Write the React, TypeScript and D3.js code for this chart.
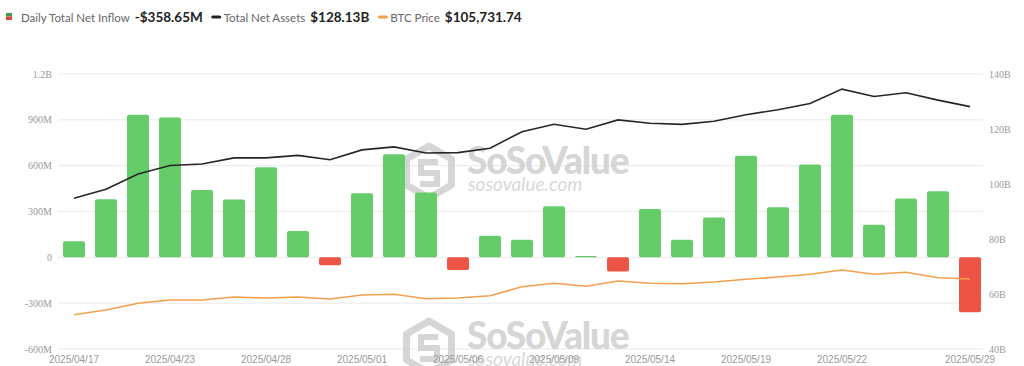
import { useEffect, useRef } from "react";
import * as d3 from "d3";

// trading days shown on the x axis
const dates = [
  "2025/04/17", "2025/04/21", "2025/04/22", "2025/04/23", "2025/04/24", "2025/04/25",
  "2025/04/28", "2025/04/29", "2025/04/30", "2025/05/01", "2025/05/02", "2025/05/05",
  "2025/05/06", "2025/05/07", "2025/05/08", "2025/05/09", "2025/05/12", "2025/05/13",
  "2025/05/14", "2025/05/15", "2025/05/16", "2025/05/19", "2025/05/20", "2025/05/21",
  "2025/05/22", "2025/05/23", "2025/05/27", "2025/05/28", "2025/05/29",
];

// daily total net inflow, in millions USD
const netInflow = [
  106, 380, 934, 915, 441, 378, 589, 172, -52, 419, 674, 424, -83, 142, 115,
  335, 8, -93, 317, 115, 261, 665, 328, 607, 933, 213, 385, 433, -358.65,
];

// total net assets, in billions USD
const netAssets = [
  94.8, 98.1, 103.6, 106.7, 107.3, 109.5, 109.5, 110.4, 108.8, 112.4, 113.5, 111.3,
  111.4, 113.0, 119.0, 121.7, 119.9, 123.3, 122.1, 121.7, 122.8, 125.2, 127.0, 129.3,
  134.5, 131.8, 133.2, 130.5, 128.13,
];

// btc price, USD
const btcPrice = [
  84900, 87700, 91600, 93500, 93500, 95250, 94670, 95250, 94090, 96420, 96830, 94260,
  94670, 96000, 101250, 103220, 101480, 104560, 103220, 103000, 103980, 105550, 106890,
  108460, 110960, 108460, 109620, 106480, 105731.74,
];

const xTickLabels = [
  "2025/04/17", "2025/04/23", "2025/04/28", "2025/05/01", "2025/05/06",
  "2025/05/09", "2025/05/14", "2025/05/19", "2025/05/22", "2025/05/29",
];
const leftTicks = [-600, -300, 0, 300, 600, 900, 1200];
const rightTicks = [40, 60, 80, 100, 120, 140];

const legendItems = [
  { label: "Daily Total Net Inflow", value: "-$358.65M", mark: "square" },
  { label: "Total Net Assets", value: "$128.13B", mark: "#222" },
  { label: "BTC Price", value: "$105,731.74", mark: "#f2a04c" },
];

const fmtLeft = (v) => (v === 0 ? "0" : Math.abs(v) >= 1000 ? `${v / 1000}B` : `${v}M`);

function Watermark(g, x, y) {
  const w = g.append("g").attr("transform", `translate(${x}, ${y})`).attr("opacity", 0.85);
  // hexagon logo
  const r = 26;
  const hex = d3.range(6).map((i) => {
    const a = (Math.PI / 3) * i - Math.PI / 2;
    return [21 + r * Math.cos(a), 27 + r * Math.sin(a)];
  });
  w.append("path")
    .attr("d", d3.line()(hex) + "Z")
    .attr("fill", "none")
    .attr("stroke", "#cfcfcf")
    .attr("stroke-width", 7)
    .attr("stroke-linejoin", "round");
  w.append("path")
    .attr("d", "M30,17 L13,17 L13,28 L29,28 L29,39 L12,39")
    .attr("fill", "none")
    .attr("stroke", "#cfcfcf")
    .attr("stroke-width", 6);
  w.append("text")
    .attr("x", 59)
    .attr("y", 29)
    .attr("font-family", "Lato, 'Open Sans', sans-serif")
    .attr("font-weight", 900)
    .attr("font-size", 37)
    .attr("letter-spacing", -1.2)
    .attr("fill", "#cfcfcf")
    .text("SoSoValue");
  w.append("text")
    .attr("x", 60)
    .attr("y", 46)
    .attr("font-family", "Lato, 'Open Sans', sans-serif")
    .attr("font-style", "italic")
    .attr("font-size", 19)
    .attr("fill", "#d2d2d2")
    .text("sosovalue.com");
}

export default function App() {
  const svgRef = useRef(null);

  useEffect(() => {
    const width = 1024, height = 366;
    const svg = d3.select(svgRef.current).attr("width", width).attr("height", height);
    svg.selectAll("*").remove();

    const top = 74, bottom = 349, left = 58, right = 986;

    const x = d3.scaleBand().domain(dates).range([left, right]).paddingInner(0.3125).paddingOuter(0.15625);
    const y0 = d3.scaleLinear().domain([-600, 1200]).range([bottom, top]);
    const y1 = d3.scaleLinear().domain([40, 140]).range([bottom, top]);
    const y2 = d3.scaleLinear().domain([65000, 225000]).range([bottom, top]);
    const cx = (d) => x(d) + x.bandwidth() / 2;

    // grid lines
    svg.append("g")
      .selectAll("line")
      .data(leftTicks)
      .join("line")
      .attr("x1", left)
      .attr("x2", 983)
      .attr("y1", (d) => y0(d))
      .attr("y2", (d) => y0(d))
      .attr("stroke", "#e9e9e9")
      .attr("stroke-width", 1);

    // left axis
    svg.append("g")
      .selectAll("text")
      .data(leftTicks)
      .join("text")
      .attr("x", 52)
      .attr("y", (d) => y0(d) + 3.5)
      .attr("text-anchor", "end")
      .attr("font-family", "'Liberation Serif', serif")
      .attr("font-size", 10)
      .attr("fill", "#999")
      .text(fmtLeft);

    // right axis
    svg.append("g")
      .selectAll("text")
      .data(rightTicks)
      .join("text")
      .attr("x", 989)
      .attr("y", (d) => y1(d) + 3.5)
      .attr("font-family", "'Liberation Serif', serif")
      .attr("font-size", 10)
      .attr("fill", "#999")
      .text((d) => `${d}B`);

    // watermarks
    Watermark(svg, 408, 145);
    Watermark(svg, 408, 320);

    // bars
    svg.append("g")
      .selectAll("rect")
      .data(netInflow)
      .join("rect")
      .attr("x", (d, i) => x(dates[i]))
      .attr("width", x.bandwidth())
      .attr("y", (d) => y0(Math.max(0, d)))
      .attr("height", (d) => Math.max(1, Math.abs(y0(d) - y0(0))))
      .attr("rx", 2)
      .attr("fill", (d) => (d >= 0 ? "#66cc69" : "#ec5444"));

    // total net assets line
    const assetLine = d3.line()
      .x((d, i) => cx(dates[i]))
      .y((d) => y1(d));
    svg.append("path")
      .attr("d", assetLine(netAssets))
      .attr("fill", "none")
      .attr("stroke", "#262626")
      .attr("stroke-width", 1.6);

    // btc price line
    const priceLine = d3.line()
      .x((d, i) => cx(dates[i]))
      .y((d) => y2(d));
    svg.append("path")
      .attr("d", priceLine(btcPrice))
      .attr("fill", "none")
      .attr("stroke", "#f2a04c")
      .attr("stroke-width", 1.6);

    // x axis labels
    svg.append("g")
      .selectAll("text")
      .data(xTickLabels)
      .join("text")
      .attr("x", (d) => cx(d))
      .attr("y", 363)
      .attr("text-anchor", "middle")
      .attr("font-family", "'Liberation Sans', Arial, sans-serif")
      .attr("font-size", 10)
      .attr("fill", "#9a9a9a")
      .text((d) => d);

    // legend, laid out left to right
    const lg = svg.append("g").attr("font-family", "Lato, sans-serif");
    let cursor = 6;
    legendItems.forEach((it) => {
      if (it.mark === "square") {
        lg.append("rect").attr("x", cursor).attr("y", 13).attr("width", 6).attr("height", 3.5).attr("fill", "#3f9e48");
        lg.append("rect").attr("x", cursor).attr("y", 16.5).attr("width", 6).attr("height", 3.5).attr("fill", "#d9443a");
        cursor += 15;
      } else {
        cursor += 9;
        lg.append("line")
          .attr("x1", cursor + 1).attr("x2", cursor + 8)
          .attr("y1", 17).attr("y2", 17)
          .attr("stroke", it.mark).attr("stroke-width", 3).attr("stroke-linecap", "round");
        cursor += 12;
      }
      const t1 = lg.append("text").attr("x", cursor).attr("y", 21.5)
        .attr("font-size", 11.5).attr("fill", "#666").text(it.label);
      cursor += t1.node().getComputedTextLength() + 5;
      const t2 = lg.append("text").attr("x", cursor).attr("y", 22)
        .attr("font-size", 13.5).attr("font-weight", 700).attr("fill", "#222").text(it.value);
      cursor += t2.node().getComputedTextLength();
    });
  }, []);

  return (
    <svg ref={svgRef} style={{ position: "absolute", left: 0, top: 0, display: "block", background: "#fff" }}></svg>
  );
}
